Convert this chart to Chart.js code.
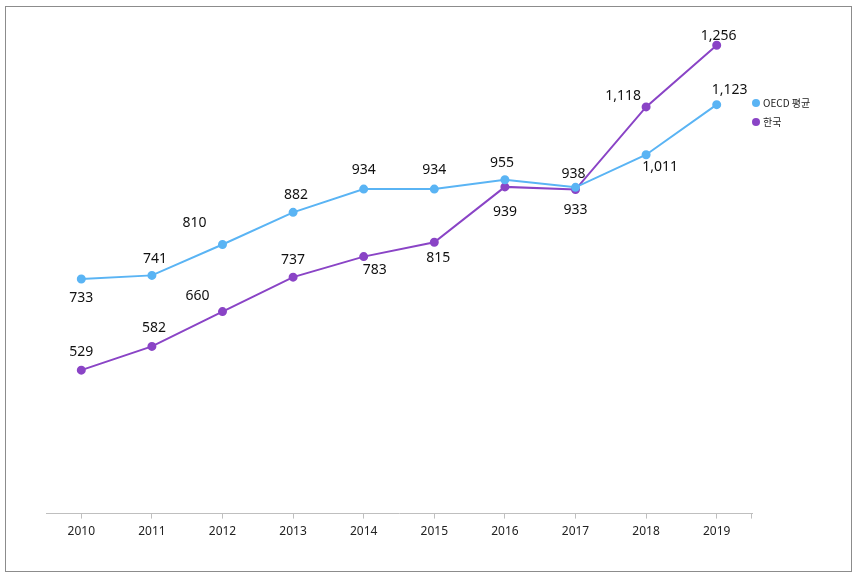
<!DOCTYPE html>
<html>
<head>
<meta charset="utf-8">
<script src="https://cdn.jsdelivr.net/npm/chart.js@4"></script>
<style>
  body { margin: 0; background: #fff; }
  #wrap { position: relative; width: 856px; height: 576px; }
  #frame { position: absolute; left: 5px; top: 6px; width: 845px; height: 564px; border: 1px solid #8c8c8c; pointer-events: none; }
</style>
</head>
<body>
<div id="wrap">
  <canvas id="trendChart" width="856" height="576"></canvas>
  <div id="frame"></div>
</div>
<script>
// chart data
const years = ['2010', '2011', '2012', '2013', '2014', '2015', '2016', '2017', '2018', '2019'];
const oecdAvg = [733, 741, 810, 882, 934, 934, 955, 938, 1011, 1123];
const korea = [529, 582, 660, 737, 783, 815, 939, 933, 1118, 1256];
const seriesNames = ['OECD 평균', '한국'];

// where each value label sits relative to its point (dx, dy in px)
const labelOffsets = [
    [[0, 19], [3, -16], [-28, -22], [3, -17], [0, -19], [0, -19], [-3, -17], [-2, -13], [14, 12], [13, -15]],
    [[0, -18], [2, -18], [-25, -16], [0, -17], [11, 13], [4, 16], [0, 25], [0, 20], [-23, -11], [2, -9]]
];

const fmt = v => v.toLocaleString('en-US');

// value labels + legend + end tick
const extras = {
    id: 'extras',
    afterDatasetsDraw(chart) {
        const c = chart.ctx;
        c.save();
        c.font = '14px "Noto Sans", sans-serif';
        c.fillStyle = '#111';
        c.textAlign = 'center';
        c.textBaseline = 'middle';
        chart.data.datasets.forEach((ds, i) => {
            chart.getDatasetMeta(i).data.forEach((pt, j) => {
                const off = labelOffsets[i][j];
                c.fillText(fmt(ds.data[j]), pt.x + off[0], pt.y + off[1]);
            });
        });

        // legend
        const lx = chart.chartArea.right + 4;
        c.font = '10px "Noto Sans CJK KR", "Noto Sans", sans-serif';
        c.textAlign = 'left';
        chart.data.datasets.forEach((ds, i) => {
            const ly = 103 + i * 19;
            c.beginPath();
            c.arc(lx, ly, 4, 0, Math.PI * 2);
            c.fillStyle = ds.borderColor;
            c.fill();
            c.fillStyle = '#222';
            c.fillText(ds.label, lx + 7, ly);
        });

        // tick at right end of x axis
        const ax = chart.scales.x;
        c.strokeStyle = '#bfbfbf';
        c.lineWidth = 1;
        c.beginPath();
        c.moveTo(ax.right - 0.5, ax.top);
        c.lineTo(ax.right - 0.5, ax.top + 5);
        c.stroke();
        c.restore();
    }
};

const ctx = document.getElementById('trendChart').getContext('2d');
new Chart(ctx, {
    type: 'line',
    data: {
        labels: years,
        datasets: [{
            label: seriesNames[0],
            data: oecdAvg,
            borderColor: '#5ab4f4',
            backgroundColor: '#5ab4f4',
            borderWidth: 2,
            pointRadius: 3.5,
            tension: 0
        }, {
            label: seriesNames[1],
            data: korea,
            borderColor: '#8a44c6',
            backgroundColor: '#8a44c6',
            borderWidth: 2,
            pointRadius: 3.5,
            tension: 0
        }]
    },
    options: {
        responsive: false,
        animation: false,
        layout: { padding: { left: 46, right: 104, top: 30, bottom: 31 } },
        plugins: {
            legend: { display: false },
            tooltip: { enabled: false }
        },
        scales: {
            x: {
                offset: true,
                grid: { offset: false, drawOnChartArea: false, drawTicks: true, tickLength: 5, color: '#bfbfbf' },
                border: { color: '#bfbfbf' },
                ticks: { padding: 6, color: '#222', font: { family: '"Noto Sans", sans-serif', size: 12 } }
            },
            y: {
                display: false,
                min: 208,
                max: 1290
            }
        }
    },
    plugins: [extras]
});
</script>
</body>
</html>
